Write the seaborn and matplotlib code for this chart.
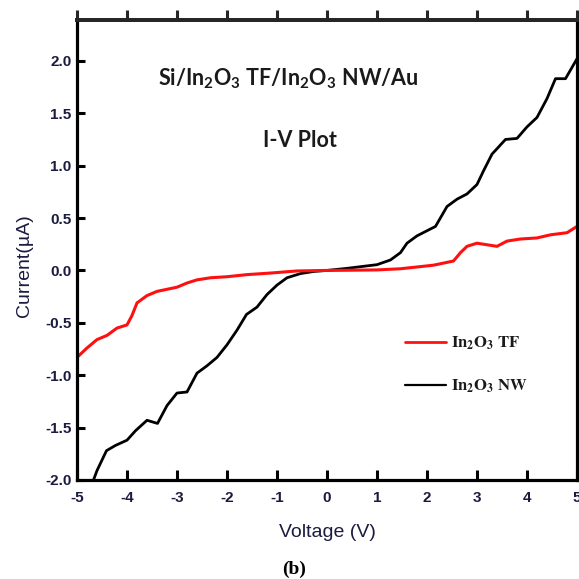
import matplotlib
matplotlib.use("Agg")
import matplotlib.pyplot as plt
import seaborn as sns
import pandas as pd
from matplotlib.lines import Line2D

# ---- data ----
v_nw = [-4.67, -4.6, -4.41, -4.23, -4.0, -3.83, -3.6, -3.39, -3.2, -3.0, -2.8, -2.6,
        -2.4, -2.2, -2.0, -1.8, -1.61, -1.4, -1.2, -1.0, -0.8, -0.53, -0.27, 0.0, 0.4,
        1.0, 1.27, 1.47, 1.6, 1.8, 2.17, 2.4, 2.6, 2.8, 3.0, 3.13, 3.3, 3.57, 3.8, 4.0,
        4.2, 4.4, 4.57, 4.77, 5.0]
i_nw = [-2.0, -1.91, -1.72, -1.67, -1.62, -1.53, -1.43, -1.46, -1.29, -1.17, -1.16, -0.98,
        -0.91, -0.83, -0.71, -0.57, -0.42, -0.35, -0.23, -0.14, -0.07, -0.03, -0.01, 0.0, 0.02,
        0.055, 0.1, 0.17, 0.26, 0.33, 0.42, 0.61, 0.68, 0.73, 0.82, 0.95, 1.11, 1.25, 1.26, 1.37,
        1.46, 1.64, 1.83, 1.83, 2.02]

v_tf = [-5.0, -4.8, -4.6, -4.4, -4.2, -4.0, -3.9, -3.8, -3.6, -3.4, -3.2, -3.0, -2.8, -2.6,
        -2.33, -2.0, -1.6, -1.13, -0.6, 0.0, 0.5, 1.0, 1.47, 2.13, 2.53, 2.67, 2.8, 3.0, 3.4,
        3.6, 3.87, 4.2, 4.47, 4.8, 5.0]
i_tf = [-0.83, -0.74, -0.66, -0.62, -0.55, -0.52, -0.43, -0.31, -0.24, -0.2, -0.18, -0.16,
        -0.12, -0.09, -0.07, -0.06, -0.04, -0.025, -0.005, 0.0, 0.002, 0.005, 0.016, 0.05, 0.09,
        0.17, 0.23, 0.26, 0.23, 0.28, 0.30, 0.31, 0.34, 0.36, 0.42]

x_ticks = [-5, -4, -3, -2, -1, 0, 1, 2, 3, 4, 5]
y_ticks = [-2.0, -1.5, -1.0, -0.5, 0.0, 0.5, 1.0, 1.5, 2.0]
label_tf = r"$\mathbf{In_2O_3\ TF}$"
label_nw = r"$\mathbf{In_2O_3\ NW}$"
title1 = r"$\mathbf{Si/In_2O_3\ TF/In_2O_3\ NW/Au}$"
title2 = "I-V Plot"

# ---- style ----
sns.set_style("ticks")
plt.rcParams["font.family"] = ["Liberation Sans", "DejaVu Sans"]
plt.rcParams["mathtext.fontset"] = "custom"
plt.rcParams["mathtext.bf"] = "Lato:bold"
plt.rcParams["mathtext.rm"] = "Lato"
plt.rcParams["mathtext.it"] = "Lato:italic"

tick_color = "#1b1b3f"

fig = plt.figure(figsize=(5.79, 5.79), dpi=100)
ax = fig.add_axes([77 / 579, 1 - 480 / 579, 500 / 579, 460 / 579])

df_nw = pd.DataFrame({"V": v_nw, "I": i_nw})
df_tf = pd.DataFrame({"V": v_tf, "I": i_tf})
sns.lineplot(data=df_nw, x="V", y="I", ax=ax, color="black", lw=2.0, sort=False)
sns.lineplot(data=df_tf, x="V", y="I", ax=ax, color="#ff1010", lw=2.2, sort=False)

ax.set_xlim(-5, 5)
ax.set_ylim(-2.0, 2.39)
ax.set_xticks(x_ticks)
ax.set_xticklabels([str(t) for t in x_ticks])
ax.set_yticks(y_ticks)
ax.set_yticklabels([f"{t:.1f}" for t in y_ticks])

for s in ["left", "bottom", "right"]:
    ax.spines[s].set_linewidth(2.3)
    ax.spines[s].set_color("black")
ax.spines["top"].set_linewidth(2.8)

ax.tick_params(axis="both", direction="in", width=2.2, color="black",
               labelcolor=tick_color, labelsize=11)
ax.tick_params(axis="x", length=7, pad=8)
ax.tick_params(axis="y", length=6, pad=4)
for lab in ax.get_xticklabels() + ax.get_yticklabels():
    lab.set_fontweight("bold")

secx = ax.secondary_xaxis("top")
secx.set_xticks(x_ticks)
secx.tick_params(direction="out", length=7, width=2.2, labeltop=False)
secx.spines["top"].set_linewidth(2.8)

ax.set_xlabel("Voltage (V)", fontsize=14, color="#1b1b3f")
ax.set_ylabel("Current(\u00b5A)", fontsize=14, color="#1b1b3f")
ax.xaxis.set_label_coords(0.5, -0.115)
ax.xaxis.label.set_va("center")
ax.yaxis.set_label_coords(-0.106, 0.465)
ax.yaxis.label.set_va("center")

ax.text(0.422, 0.872, title1, transform=ax.transAxes, ha="center", va="center",
        fontsize=15.5, color="#1a1a1a")
ax.text(0.446, 0.739, title2, transform=ax.transAxes, ha="center", va="center",
        fontsize=15.5, fontweight="bold", family=["Lato", "DejaVu Sans"], color="#1a1a1a")

handles = [Line2D([], [], color="#ff1010", lw=2.0), Line2D([], [], color="black", lw=1.6)]
leg = ax.legend(handles, [label_tf, label_nw], loc="upper left",
                bbox_to_anchor=(0.656, 0.316), frameon=False, fontsize=12,
                handlelength=2.45, handletextpad=0.3, labelspacing=1.55,
                borderpad=0, borderaxespad=0)
for t in leg.get_texts():
    t.set_math_fontfamily("stix")
    t.set_color("#1a1a1a")

fig.text(294 / 579, 1 - 569 / 579, "(b)", ha="center", va="center", fontsize=14,
         fontweight="bold", family=["Liberation Serif", "DejaVu Serif"], color="black")

fig.savefig("out.png", dpi=100)
